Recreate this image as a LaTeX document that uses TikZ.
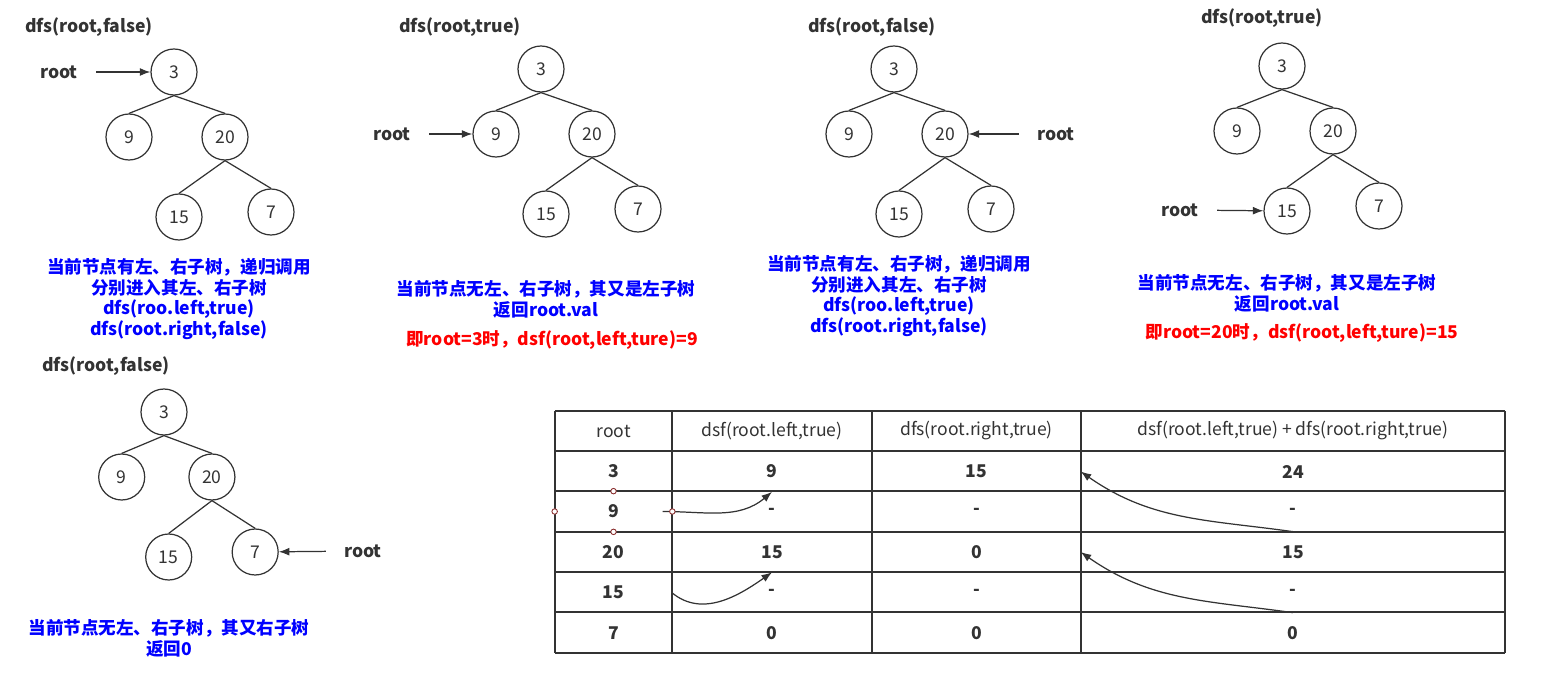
\documentclass[tikz,border=0pt]{standalone}
\usepackage{fontspec}
\newfontfamily\cjk{Noto Sans CJK SC}
\usetikzlibrary{arrows.meta}
\definecolor{linegray}{HTML}{333333}
\definecolor{noteblue}{HTML}{0000FF}
\definecolor{notered}{HTML}{FF0000}
\definecolor{handlered}{HTML}{8A2E2E}
\tikzset{>={Latex[length=6pt,width=4.5pt]}}

\tikzstyle{treenode}=[circle, draw=linegray, line width=0.7pt, minimum size=0.92cm, inner sep=0pt, text=linegray, font=\cjk\fontsize{10}{12}\selectfont]
\tikzstyle{treeedge}=[draw=linegray, line width=0.7pt]
\tikzstyle{title}=[inner sep=0pt, text=linegray, font=\cjk\bfseries\fontsize{10}{12}\selectfont]
\tikzstyle{rootlbl}=[inner sep=0pt, text=linegray, font=\cjk\bfseries\fontsize{10}{12}\selectfont]
\tikzstyle{ptr}=[->, draw=linegray, line width=0.7pt, shorten <=0.36cm]
\tikzstyle{bluenote}=[align=center, inner sep=0pt, text=noteblue, font=\cjk\bfseries\fontsize{10}{11.9}\selectfont]
\tikzstyle{rednote}=[inner sep=0pt, text=notered, font=\cjk\bfseries\fontsize{10}{12}\selectfont]
\tikzstyle{tableline}=[draw=linegray, line width=0.9pt]
\tikzstyle{cell}=[inner sep=0pt, minimum height=0.8cm, text=linegray, font=\cjk\bfseries\fontsize{10}{12}\selectfont]
\tikzstyle{headcell}=[inner sep=0pt, minimum height=0.8cm, text=linegray, font=\cjk\fontsize{10}{12}\selectfont]
\tikzstyle{flow}=[->, draw=linegray, line width=0.7pt]
\tikzstyle{handle}=[circle, draw=handlered, fill=white, line width=0.5pt, inner sep=0pt, minimum size=0.11cm]

% one tree: [x spread], prefix, x and y of the root node 3
\newcommand{\bintree}[4][1]{%
  \begin{scope}[shift={(#3,#4)}, xscale=#1]
    \node[treenode] (#2n3) at (0,0) {3};
    \node[treenode] (#2n9) at (-45,65) {9};
    \node[treenode] (#2n20) at (51,65) {20};
    \node[treenode] (#2n15) at (5,145) {15};
    \node[treenode] (#2n7) at (97,140) {7};
    \draw[treeedge] (#2n3.south) -- (#2n9.north);
    \draw[treeedge] (#2n3.south) -- (#2n20.north);
    \draw[treeedge] (#2n20.south) -- (#2n15.north);
    \draw[treeedge] (#2n20.south) -- (#2n7.north);
  \end{scope}}

\begin{document}
\begin{tikzpicture}[x=0.02cm, y=-0.02cm]
  \useasboundingbox (0,0) rectangle (1549,679);

  % first tree, root = 3
  \node[title] (ta) at (89,27) {dfs(root,false)};
  \bintree{a}{174}{72}
  \node[rootlbl] (ra) at (59,72) {root};
  \draw[ptr] (ra) -- (an3);
  \node[bluenote] (na) at (179,299) {当前节点有左、右子树，递归调用\\分别进入其左、右子树\\dfs(roo.left,true)\\dfs(root.right,false)};

  % second tree, root = 9
  \node[title] (tb) at (460,27) {dfs(root,true)};
  \bintree{b}{541}{69}
  \node[rootlbl] (rb) at (392,134) {root};
  \draw[ptr] (rb) -- (bn9);
  \node[bluenote] (nb) at (546,299) {当前节点无左、右子树，其又是左子树\\返回root.val};
  \node[rednote] (eb) at (552,340) {即root=3时，dsf(root,left,ture)=9};

  % third tree, root = 20
  \node[title] (tc) at (872,27) {dfs(root,false)};
  \bintree{c}{894}{69}
  \node[rootlbl] (rc) at (1056,134) {root};
  \draw[ptr] (rc) -- (cn20);
  \node[bluenote] (nc) at (899,296) {当前节点有左、右子树，递归调用\\分别进入其左、右子树\\dfs(roo.left,true)\\dfs(root.right,false)};

  % fourth tree, root = 15
  \node[title] (td) at (1262,18) {dfs(root,true)};
  \bintree{d}{1282}{66}
  \node[rootlbl] (rd) at (1180,210) {root};
  \draw[ptr] (rd) -- (dn15);
  \node[bluenote] (nd) at (1287,293) {当前节点无左、右子树，其又是左子树\\返回root.val};
  \node[rednote] (ed) at (1302,333) {即root=20时，dsf(root,left,ture)=15};

  % fifth tree, root = 7
  \node[title] (te) at (106,366) {dfs(root,false)};
  \bintree[0.94]{e}{164}{412}
  \node[rootlbl] (re) at (363,551) {root};
  \draw[ptr] (re) -- (en7);
  \node[bluenote] (ne) at (169,638) {当前节点无左、右子树，其又右子树\\返回0};

  % table
  \foreach \y in {411,451,491,532,572,612,653}
    \draw[tableline] (555,\y) -- (1505,\y);
  \foreach \x in {555,672,872,1081,1505}
    \draw[tableline] (\x,411) -- (\x,653);
  \node[headcell, minimum width=2.34cm] (c0-1) at (613.5,431) {root};
  \node[headcell, minimum width=4cm] (c0-2) at (772,431) {dsf(root.left,true)};
  \node[headcell, minimum width=4.18cm] (c0-3) at (976.5,431) {dfs(root.right,true)};
  \node[headcell, minimum width=8.48cm] (c0-4) at (1293,431) {dsf(root.left,true) + dfs(root.right,true)};
  \foreach \r/\y/\va/\vb/\vc/\vd in {1/471.5/3/9/15/24, 2/511.5/9/-/-/-, 3/552/20/15/0/15, 4/592.5/15/-/-/-, 5/633/7/0/0/0}{
    \node[cell, minimum width=2.34cm] (c\r-1) at (613.5,\y) {\va};
    \node[cell, minimum width=4cm] (c\r-2) at (772,\y) {\vb};
    \node[cell, minimum width=4.18cm] (c\r-3) at (976.5,\y) {\vc};
    \node[cell, minimum width=8.48cm] (c\r-4) at (1293,\y) {\vd};
  }

  % results going back up
  \draw[flow] ([xshift=-0.18cm]c2-2.west) to[out=0, in=220] (c1-2.south);
  \draw[flow] (c4-2.west) to[out=-40, in=215] (c3-2.south);
  \draw[flow] (c3-4.north) to[out=172, in=-35] (c1-4.west);
  \draw[flow] (c5-4.north) to[out=172, in=-35] (c3-4.west);

  % selection handles round the cell 9
  \foreach \a in {north,south,west,east}
    \node[handle] at (c2-1.\a) {};
\end{tikzpicture}
\end{document}
